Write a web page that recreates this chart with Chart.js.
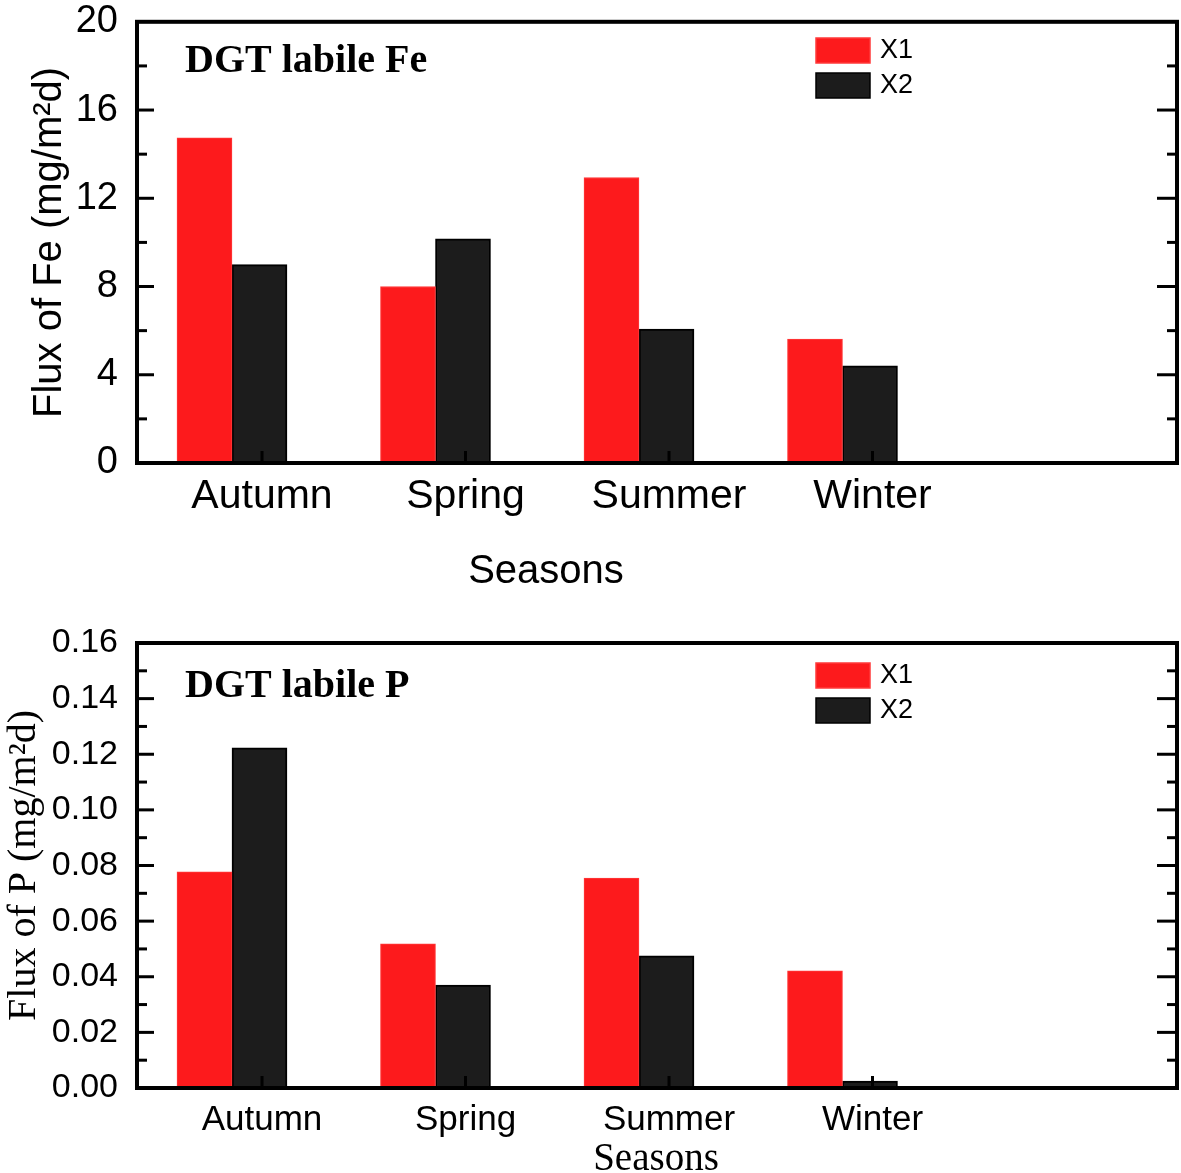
<!DOCTYPE html>
<html>
<head>
<meta charset="utf-8">
<title>DGT labile Fe / P flux by season</title>
<script src="https://cdn.jsdelivr.net/npm/chart.js@4.4.1/dist/chart.umd.min.js"></script>
<style>
  html, body { margin: 0; padding: 0; background: #fff; overflow: hidden; }
  .wrap { position: relative; width: 1181px; overflow: hidden; }
  canvas { display: block; }
  #feWrap { height: 600px; }
  #feChart { position: absolute; left: 0; top: -20px; }
  #pWrap { height: 573px; }
</style>
</head>
<body>
<div class="wrap" id="feWrap"><canvas id="feChart" width="1181" height="620"></canvas></div>
<div class="wrap" id="pWrap"><canvas id="pChart" width="1181" height="573"></canvas></div>
<script>
// data
var seasons = ['Autumn', 'Spring', 'Summer', 'Winter'];
var seriesNames = ['X1', 'X2'];

var feX1 = [14.74, 8.0, 12.94, 5.62];
var feX2 = [8.99, 10.16, 6.07, 4.40];
var feTicks = [0, 4, 8, 12, 16, 20];

var pX1 = [0.0777, 0.0518, 0.0755, 0.0421];
var pX2 = [0.1223, 0.0370, 0.0475, 0.0025];
var pTicks = [0, 0.02, 0.04, 0.06, 0.08, 0.10, 0.12, 0.14, 0.16];

var red = '#fd1a1c';
var dark = '#1c1c1c';
var SANS = "'Liberation Sans', Arial, sans-serif";
var SERIF = "'Liberation Serif', 'Times New Roman', serif";

// frame, inward ticks, inner title, legend, x title
var panelDeco = {
    id: 'panelDeco',
    afterDatasetsDraw: function (chart, args, opts) {
        var ctx = chart.ctx;
        var area = chart.chartArea;
        var y = chart.scales.y;
        var x = chart.scales.x;

        function line(x1, y1, x2, y2) {
            ctx.beginPath();
            ctx.moveTo(x1, y1);
            ctx.lineTo(x2, y2);
            ctx.stroke();
        }

        ctx.save();
        ctx.strokeStyle = '#000';
        ctx.lineWidth = 3;

        var vals = y.ticks.map(function (t) { return t.value; });
        for (var i = 0; i < vals.length; i++) {
            var py = y.getPixelForValue(vals[i]);
            if (i > 0 && i < vals.length - 1) {
                line(area.left, py, area.left + 17, py);
                line(area.right, py, area.right - 20, py);
            }
            if (i < vals.length - 1) {
                var my = y.getPixelForValue((vals[i] + vals[i + 1]) / 2);
                line(area.left, my, area.left + 10, my);
                line(area.right, my, area.right - 10, my);
            }
        }
        x.ticks.forEach(function (t) {
            var px = x.getPixelForValue(t.value);
            line(px, area.bottom, px, area.bottom - 12);
        });

        ctx.lineWidth = 4;
        ctx.strokeRect(area.left, area.top, area.right - area.left, area.bottom - area.top);

        // panel label
        ctx.fillStyle = '#000';
        ctx.textAlign = 'left';
        ctx.textBaseline = 'alphabetic';
        ctx.font = 'bold 40px ' + SERIF;
        ctx.fillText(opts.label, opts.labelX, opts.labelY);

        // legend
        ctx.font = '27px ' + SANS;
        ctx.textBaseline = 'middle';
        chart.data.datasets.forEach(function (ds, k) {
            var by = opts.legendY + k * opts.legendGap;
            ctx.fillStyle = ds.backgroundColor;
            ctx.fillRect(opts.legendX, by, 54, 25);
            ctx.lineWidth = 1.5;
            ctx.strokeStyle = ds.borderColor;
            ctx.strokeRect(opts.legendX, by, 54, 25);
            ctx.fillStyle = '#000';
            ctx.fillText(ds.label, opts.legendX + 64, by + 13);
        });

        // x axis title
        ctx.font = opts.xTitleFont;
        ctx.textAlign = 'center';
        ctx.textBaseline = 'alphabetic';
        ctx.fillText('Seasons', opts.xTitleX, opts.xTitleY);
        ctx.restore();
    }
};

function makeChart(canvasId, x1, x2, yTicks, look) {
    var toPts = function (arr) {
        return arr.map(function (v, i) { return { x: i + 1, y: v }; });
    };
    var setTicks = function (list) {
        return function (scale) {
            scale.ticks = list.map(function (v) { return { value: v }; });
        };
    };

    return new Chart(document.getElementById(canvasId), {
        type: 'bar',
        data: {
            datasets: [
                {
                    label: seriesNames[0],
                    data: toPts(x1),
                    backgroundColor: red,
                    borderColor: '#ff3a3a',
                    borderWidth: 1,
                    xAxisID: 'xb'
                },
                {
                    label: seriesNames[1],
                    data: toPts(x2),
                    backgroundColor: dark,
                    borderColor: '#000',
                    borderWidth: 2,
                    xAxisID: 'xb'
                }
            ]
        },
        options: {
            responsive: false,
            animation: false,
            layout: { padding: { top: look.top, right: 4, left: 0, bottom: 0 } },
            plugins: {
                legend: { display: false },
                tooltip: { enabled: false },
                panelDeco: look.deco
            },
            datasets: { bar: { barThickness: 55, grouped: true } },
            scales: {
                // bars sit a little left of the category ticks, as in the figure
                xb: {
                    type: 'linear',
                    display: false,
                    offset: false,
                    grid: { offset: false },
                    min: 0.5332,
                    max: 5.6438,
                    afterBuildTicks: setTicks([1, 2, 3, 4])
                },
                x: {
                    type: 'linear',
                    position: 'bottom',
                    offset: false,
                    min: 0.3857,
                    max: 5.4963,
                    afterBuildTicks: setTicks([1, 2, 3, 4]),
                    afterFit: function (s) { s.height = look.xHeight; },
                    grid: { display: false, drawTicks: false, offset: false },
                    border: { display: false },
                    ticks: {
                        padding: look.xPad,
                        color: '#000',
                        font: { family: SANS, size: look.xFont },
                        maxRotation: 0,
                        autoSkip: false,
                        callback: function (v) { return seasons[v - 1] || ''; }
                    }
                },
                y: {
                    type: 'linear',
                    min: yTicks[0],
                    max: yTicks[yTicks.length - 1],
                    afterBuildTicks: setTicks(yTicks),
                    afterFit: function (s) { s.width = 137; },
                    grid: { display: false, drawTicks: false },
                    border: { display: false },
                    ticks: {
                        padding: 19,
                        color: '#000',
                        font: { family: SANS, size: look.yFont },
                        callback: look.fmt
                    },
                    title: {
                        display: true,
                        text: look.yTitle,
                        color: '#000',
                        font: look.yTitleFont,
                        padding: { top: look.yTitlePad, bottom: 0 }
                    }
                }
            }
        },
        plugins: [panelDeco]
    });
}

// top canvas is 20px taller and shifted up, so the "20" label can overhang the frame
makeChart('feChart', feX1, feX2, feTicks, {
    top: 39,
    xHeight: 137,
    xPad: 9,
    xFont: 41,
    yFont: 38,
    fmt: function (v) { return String(v); },
    yTitle: 'Flux of Fe (mg/m\u00b2d)',
    yTitleFont: { family: SANS, size: 40 },
    yTitlePad: 26,
    deco: {
        label: 'DGT labile Fe', labelX: 185, labelY: 92,
        legendX: 816, legendY: 58, legendGap: 35,
        xTitleFont: '40px ' + SANS, xTitleX: 546, xTitleY: 603
    }
});

makeChart('pChart', pX1, pX2, pTicks, {
    top: 43,
    xHeight: 85,
    xPad: 11,
    xFont: 35,
    yFont: 34,
    fmt: function (v) { return v.toFixed(2); },
    yTitle: 'Flux of P (mg/m\u00b2d)',
    yTitleFont: { family: SERIF, size: 40 },
    yTitlePad: 0,
    deco: {
        label: 'DGT labile P', labelX: 185, labelY: 97,
        legendX: 816, legendY: 63, legendGap: 35,
        xTitleFont: '39px ' + SERIF, xTitleX: 656, xTitleY: 570
    }
});
</script>
</body>
</html>
